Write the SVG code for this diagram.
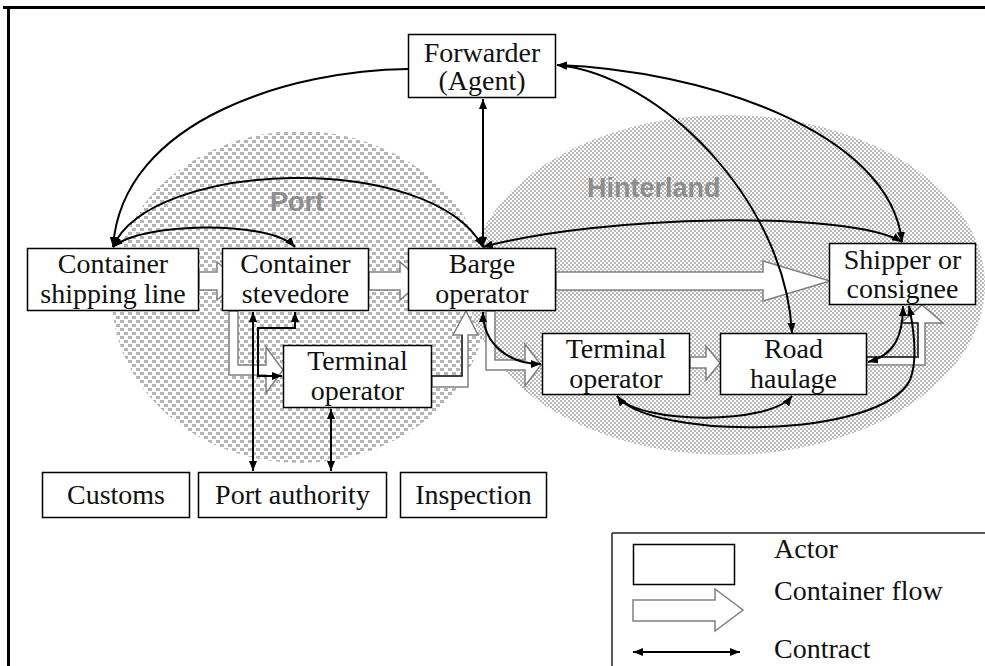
<svg xmlns="http://www.w3.org/2000/svg" width="985" height="666" viewBox="0 0 985 666">
<style>
.box{fill:#fff;stroke:#000;stroke-width:1.5}
.t{font-family:"Liberation Serif","Times New Roman",serif;font-size:28px;fill:#111;text-anchor:middle}
.lt{font-family:"Liberation Serif","Times New Roman",serif;font-size:28px;fill:#111}
.region{font-family:"Liberation Sans",Arial,sans-serif;font-weight:bold;font-size:27px;fill:#8e8e8e}
.flow{fill:#fff;stroke:#808080;stroke-width:1.5;stroke-linejoin:miter}
.con{fill:none;stroke:#000;stroke-width:2}
.dark{fill:none;stroke:#222;stroke-width:1.5}
</style>
<defs>
<pattern id="portPat" width="8" height="8" patternUnits="userSpaceOnUse">
<rect width="8" height="8" fill="#fff"/>
<rect x="0" y="0" width="4" height="3" fill="#b5b5b5"/>
<rect x="4" y="4" width="4" height="3" fill="#b5b5b5"/>
</pattern>
<pattern id="hintPat" width="4" height="4" patternUnits="userSpaceOnUse">
<rect width="4" height="4" fill="#fff"/>
<rect x="0" y="0" width="2" height="2" fill="#b8b8b8"/>
<rect x="2" y="2" width="2" height="2" fill="#b8b8b8"/>
</pattern>
<marker id="ah" viewBox="0 0 10 8" refX="10" refY="4" markerWidth="10" markerHeight="8" markerUnits="userSpaceOnUse" orient="auto-start-reverse">
<path d="M0,0 L10,4 L0,8 z" fill="#000"/>
</marker>
</defs>

<rect width="985" height="666" fill="#fff"/>

<g id="frame">
<line x1="3" y1="7.5" x2="985" y2="7.5" stroke="#000" stroke-width="3"/>
<line x1="8.5" y1="6" x2="8.5" y2="666" stroke="#000" stroke-width="3"/>
</g>

<g id="regions">
<ellipse id="port-area" cx="300" cy="297" rx="188" ry="166" fill="url(#portPat)"/>
<ellipse id="hinterland-area" cx="727" cy="285" rx="258" ry="170" fill="url(#hintPat)"/>
<text class="region" x="270" y="211">Port</text>
<text class="region" x="587" y="197">Hinterland</text>
</g>

<g id="flows">
<polygon class="flow" points="199,272 217,272 217,262 240,281 217,300 217,290 199,290"/>
<polygon class="flow" points="369,272 400,272 400,262 422,281 400,300 400,290 369,290"/>
<polygon class="flow" points="556,272 763,272 763,261 830,281 763,301 763,290 556,290"/>
<polygon class="flow" points="229,311 229,375 266,375 266,393 283,370 266,347 266,365 238,365 238,311"/>
<polygon class="flow" points="432,387 468,387 468,335 478,335 466,311 453,335 462,335 462,376 432,376"/>
<polyline class="dark" points="432,376 462,376 462,335"/>
<polygon class="flow" points="486,311 486,370 525,370 525,386 541,365 525,344 525,360 495,360 495,311"/>
<polygon class="flow" points="690,357 706,357 706,346 720,363 706,380 706,368 690,368"/>
<polygon class="flow" points="867,365 925,365 925,323 943,323 922,305 901,323 918,323 918,357 867,357"/>
<polyline class="dark" points="867,357 918,357 918,323 903,323"/>
</g>

<g id="forwarder"><rect class="box" x="408.5" y="34.5" width="147" height="63"/><text class="t" x="482" y="62">Forwarder</text><text class="t" x="482" y="90">(Agent)</text></g>
<g id="container-shipping-line"><rect class="box" x="27.5" y="248.5" width="171" height="62"/><text class="t" x="113" y="273">Container</text><text class="t" x="113" y="303">shipping line</text></g>
<g id="container-stevedore"><rect class="box" x="222.5" y="248.5" width="146" height="62"/><text class="t" x="295.5" y="273">Container</text><text class="t" x="295.5" y="303">stevedore</text></g>
<g id="barge-operator"><rect class="box" x="408.5" y="248.5" width="147" height="62"/><text class="t" x="482" y="273">Barge</text><text class="t" x="482" y="303">operator</text></g>
<g id="shipper"><rect class="box" x="829.5" y="243.5" width="146" height="61"/><text class="t" x="902.5" y="269">Shipper or</text><text class="t" x="902.5" y="298">consignee</text></g>
<g id="terminal-operator-port"><rect class="box" x="283.5" y="345.5" width="148" height="62"/><text class="t" x="357.5" y="370">Terminal</text><text class="t" x="357.5" y="400">operator</text></g>
<g id="terminal-operator-hinterland"><rect class="box" x="542.5" y="333.5" width="147" height="61"/><text class="t" x="616" y="358">Terminal</text><text class="t" x="616" y="388">operator</text></g>
<g id="road-haulage"><rect class="box" x="720.5" y="333.5" width="146" height="61"/><text class="t" x="793.5" y="358">Road</text><text class="t" x="793.5" y="388">haulage</text></g>
<g id="customs"><rect class="box" x="42.5" y="472.5" width="147" height="45"/><text class="t" x="116" y="504">Customs</text></g>
<g id="port-authority"><rect class="box" x="198.5" y="472.5" width="188" height="45"/><text class="t" x="292.5" y="504">Port authority</text></g>
<g id="inspection"><rect class="box" x="400.5" y="472.5" width="146" height="45"/><text class="t" x="473.5" y="504">Inspection</text></g>

<g id="contracts">
<path class="con" d="M408,69 C295,70 122,118 113,247" marker-end="url(#ah)"/>
<path class="con" d="M113,247 C140,222 270,220 295,247" marker-start="url(#ah)" marker-end="url(#ah)"/>
<path class="con" d="M113,247 C150,160 430,150 483,247" marker-start="url(#ah)" marker-end="url(#ah)"/>
<path class="con" d="M483,99 L483,247" marker-start="url(#ah)" marker-end="url(#ah)"/>
<path class="con" d="M483,247 C600,215 850,210 902,242" marker-start="url(#ah)" marker-end="url(#ah)"/>
<path class="con" d="M557,65 C700,70 890,130 902,242" marker-start="url(#ah)" marker-end="url(#ah)"/>
<path class="con" d="M557,65 C660,75 785,200 792,333" marker-start="url(#ah)" marker-end="url(#ah)"/>
<path class="con" d="M483,312 C483,345 510,364 541,364" marker-start="url(#ah)" marker-end="url(#ah)"/>
<path class="con" d="M617,396 C640,425 770,425 792,396" marker-start="url(#ah)" marker-end="url(#ah)"/>
<path class="con" d="M617,396 C650,440 880,440 910,380 C918,360 914,330 909,306" marker-start="url(#ah)" marker-end="url(#ah)"/>
<path class="con" d="M868,362 C895,355 903,335 903,306" marker-start="url(#ah)" marker-end="url(#ah)"/>
<path class="con" d="M253,312 L253,471" marker-start="url(#ah)" marker-end="url(#ah)"/>
<path class="con" d="M295,312 L295,328 L258,328 L258,376 L282,376" marker-start="url(#ah)" marker-end="url(#ah)"/>
<path class="con" d="M331,409 L331,471" marker-start="url(#ah)" marker-end="url(#ah)"/>
</g>

<g id="legend">
<line x1="612" y1="533" x2="985" y2="533" stroke="#222" stroke-width="1.5"/>
<line x1="612" y1="533" x2="612" y2="666" stroke="#222" stroke-width="1.5"/>
<rect class="box" x="633.5" y="544.5" width="101" height="40"/>
<text class="lt" x="774" y="558">Actor</text>
<polygon class="flow" points="633,600 715,600 715,589 743,610 715,631 715,621 633,621"/>
<text class="lt" x="774" y="600">Container flow</text>
<path class="con" d="M633,652 L740,652" stroke-width="1.5" marker-start="url(#ah)" marker-end="url(#ah)"/>
<text class="lt" x="774" y="658">Contract</text>
</g>
</svg>
